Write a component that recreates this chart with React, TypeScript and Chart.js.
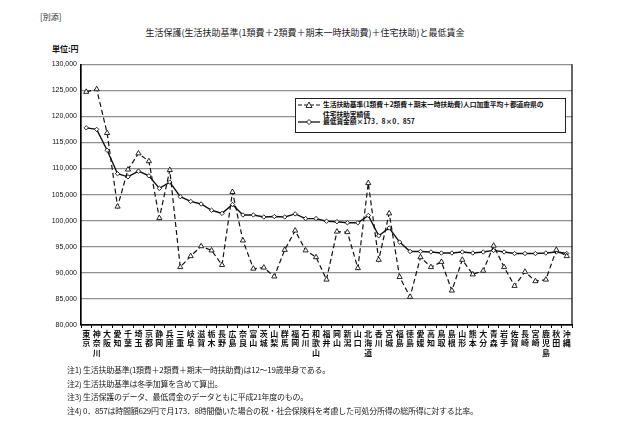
import { useEffect, useRef } from 'react'
import Chart from 'chart.js/auto'

const prefectures: string[] = [
  '東京', '神奈川', '大阪', '愛知', '千葉', '埼玉', '京都', '静岡', '兵庫', '三重',
  '岐阜', '滋賀', '栃木', '長野', '広島', '奈良', '富山', '茨城', '山梨', '群馬',
  '福岡', '石川', '和歌山', '福井', '岡山', '新潟', '山口', '北海道', '香川', '宮城',
  '福島', '徳島', '愛媛', '高知', '鳥取', '島根', '山形', '熊本', '大分', '青森',
  '岩手', '佐賀', '長崎', '宮崎', '鹿児島', '秋田', '沖縄',
]

// 生活扶助基準 + 住宅扶助 (dashed, triangles)
const welfare: number[] = [
  124700, 125200, 116800, 102700, 109800, 112900, 111400, 100500, 109700, 91100,
  93200, 95100, 94300, 91500, 105500, 96200, 90800, 91000, 89300, 94400,
  98100, 94300, 93000, 88700, 97900, 97800, 90900, 107200, 92500, 101400,
  89200, 85400, 93000, 91100, 92100, 86600, 92500, 89700, 90400, 95200,
  91100, 87500, 90200, 88400, 88700, 94400, 93200,
]

// 最低賃金額 x 173.8 x 0.857 (solid, diamonds)
const minWage: number[] = [
  117800, 117500, 113500, 109000, 108400, 109500, 108600, 106200, 107400, 104600,
  103700, 103200, 102000, 101400, 103100, 101100, 101100, 100700, 100800, 100700,
  101300, 100400, 100400, 99900, 99800, 99600, 99600, 101000, 97100, 98600,
  95900, 94100, 94100, 94000, 93800, 93800, 94000, 93800, 94000, 94300,
  94000, 93700, 93700, 93700, 93800, 94000, 93700,
]

const notes: string[] = [
  '注1) 生活扶助基準(1類費＋2類費＋期末一時扶助費)は12～19歳単身である。',
  '注2) 生活扶助基準は冬季加算を含めて算出。',
  '注3) 生活保護のデータ、最低賃金のデータともに平成21年度のもの。',
  '注4) 0．857は時間額629円で月173．8時間働いた場合の税・社会保険料を考慮した可処分所得の総所得に対する比率。',
]

const jp = '"Noto Sans CJK JP", "Noto Sans", sans-serif'

// frame lines around the plot (left/right/bottom black)
const framePlugin = {
  id: 'frame',
  afterDraw(chart: Chart) {
    const { ctx, chartArea: a } = chart
    ctx.save()
    ctx.strokeStyle = '#000'
    ctx.lineWidth = 1.2
    ctx.beginPath()
    ctx.moveTo(a.left, a.top)
    ctx.lineTo(a.left, a.bottom)
    ctx.lineTo(a.right, a.bottom)
    ctx.lineTo(a.right, a.top)
    ctx.stroke()
    ctx.restore()
  },
}

export default function App() {
  const canvasRef = useRef<HTMLCanvasElement>(null)

  useEffect(() => {
    if (!canvasRef.current) return
    const chart = new Chart(canvasRef.current, {
      type: 'line',
      data: {
        labels: prefectures.map(p => p.split('')),
        datasets: [
          {
            label: '生活扶助基準',
            data: welfare,
            borderColor: '#111',
            borderWidth: 1.2,
            borderDash: [5, 3],
            pointStyle: 'triangle',
            pointRadius: 3,
            pointBackgroundColor: '#fff',
            pointBorderColor: '#111',
            pointBorderWidth: 0.9,
            tension: 0,
          },
          {
            label: '最低賃金',
            data: minWage,
            borderColor: '#111',
            borderWidth: 1.4,
            pointStyle: 'rectRot',
            pointRadius: 2.2,
            pointBackgroundColor: '#fff',
            pointBorderColor: '#111',
            pointBorderWidth: 0.9,
            tension: 0,
          },
        ],
      },
      options: {
        animation: false,
        responsive: false,
        devicePixelRatio: 1,
        layout: { padding: { top: 8, right: 8, left: 0, bottom: 0 } },
        plugins: { legend: { display: false }, tooltip: { enabled: false } },
        scales: {
          x: {
            offset: true,
            afterFit: s => { s.height = 41 },
            grid: { display: true, drawOnChartArea: false, offset: true, tickLength: 3, color: '#000' },
            border: { color: '#000', width: 1.2 },
            ticks: {
              autoSkip: false,
              maxRotation: 0,
              minRotation: 0,
              padding: 1,
              color: '#111',
              font: { family: jp, size: 8, weight: 'bold', lineHeight: 1.18 },
            },
          },
          y: {
            min: 80000,
            max: 130000,
            afterFit: s => { s.width = 81 },
            grid: { color: '#8f8f8f', lineWidth: 1.3, drawTicks: false },
            border: { color: '#000', width: 1.2 },
            ticks: {
              stepSize: 5000,
              padding: 4,
              color: '#111',
              font: { family: '"Liberation Sans", Arial, sans-serif', size: 7 },
              callback: v => Number(v).toLocaleString('en-US'),
            },
          },
        },
      },
      plugins: [framePlugin],
    })
    return () => chart.destroy()
  }, [])

  return (
    <div style={{ position: 'fixed', left: 0, top: 0, width: 630, height: 441, background: '#fff', fontFamily: jp, color: '#222', overflow: 'hidden' }}>
      <div style={{ position: 'absolute', left: 40, top: 11, fontSize: 8 }}>[別添]</div>
      <div style={{ position: 'absolute', left: 0, width: 610, top: 26, fontSize: 9, textAlign: 'center' }}>
        生活保護(生活扶助基準(1類費＋2類費＋期末一時扶助費)＋住宅扶助)と最低賃金
      </div>
      <div style={{ position: 'absolute', left: 52, top: 43, fontSize: 8, fontWeight: 'bold', color: '#111' }}>単位:円</div>

      <canvas ref={canvasRef} width={580} height={310} style={{ position: 'absolute', left: 0, top: 56 }} />

      {/* legend box */}
      <div style={{ position: 'absolute', left: 295, top: 98, width: 269, height: 33, border: '1px solid #222', background: '#fff', fontSize: 6.8, fontWeight: 'bold', color: '#111', lineHeight: 1, letterSpacing: -0.1 }}>
        <svg width={22} height={8} style={{ position: 'absolute', left: 2, top: 2 }}>
          <line x1={0} y1={4} x2={22} y2={4} stroke="#111" strokeWidth={1} strokeDasharray="4 2" />
          <polygon points="11,1 14,6.5 8,6.5" fill="#fff" stroke="#111" strokeWidth={0.9} />
        </svg>
        <div style={{ position: 'absolute', left: 27, top: 2, whiteSpace: 'nowrap' }}>生活扶助基準(1類費＋2類費＋期末一時扶助費)人口加重平均＋都道府県の</div>
        <div style={{ position: 'absolute', left: 27, top: 12, whiteSpace: 'nowrap' }}>住宅扶助実績値</div>
        <svg width={22} height={8} style={{ position: 'absolute', left: 2, top: 19 }}>
          <line x1={0} y1={4} x2={22} y2={4} stroke="#111" strokeWidth={1.3} />
          <polygon points="11,1.5 13.5,4 11,6.5 8.5,4" fill="#fff" stroke="#111" strokeWidth={0.9} />
        </svg>
        <div style={{ position: 'absolute', left: 27, top: 19, whiteSpace: 'nowrap' }}>最低賃金額×173．8×0．857</div>
      </div>

      {notes.map((n, i) => (
        <div key={i} style={{ position: 'absolute', left: 67, top: 364 + i * 13.5, fontSize: 8, letterSpacing: -0.25, whiteSpace: 'nowrap' }}>{n}</div>
      ))}
    </div>
  )
}
